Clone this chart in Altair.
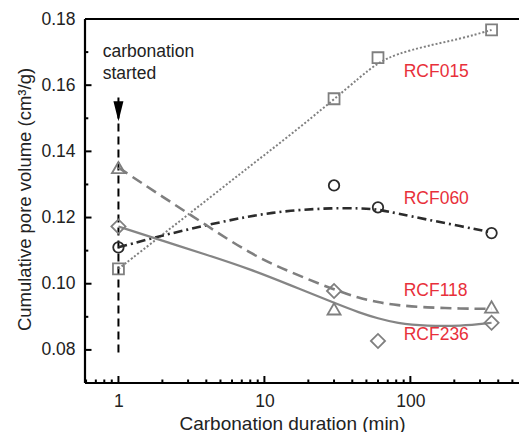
import altair as alt
import pandas as pd

# ---------------- data ----------------
series_names = ["RCF015", "RCF060", "RCF118", "RCF236"]

# measured points: carbonation duration (min) and cumulative pore volume (cm3/g)
rcf015_t = [1, 30, 60, 360]
rcf015_v = [0.1045, 0.1559, 0.1683, 0.1767]
rcf060_t = [1, 30, 60, 360]
rcf060_v = [0.1110, 0.1297, 0.1231, 0.1153]
rcf118_t = [1, 30, 360]
rcf118_v = [0.1351, 0.0924, 0.0930]
rcf236_t = [1, 30, 60, 360]
rcf236_v = [0.1173, 0.0978, 0.0827, 0.0882]

# fitted curves
fit_t = [1, 2, 4, 8, 15, 30, 45, 60, 80, 130, 220, 360]
fit_rcf015 = [0.1045, 0.1148, 0.1252, 0.1356, 0.1449, 0.1557, 0.1624, 0.1668, 0.1694, 0.1719, 0.1740, 0.1767]
fit_rcf060 = [0.1110, 0.1146, 0.1177, 0.1205, 0.1222, 0.1229, 0.1228, 0.1225, 0.1213, 0.1194, 0.1174, 0.1155]
fit_rcf118 = [0.1351, 0.1263, 0.1177, 0.1090, 0.1035, 0.0982, 0.0956, 0.0944, 0.0935, 0.0928, 0.0925, 0.0924]
fit_rcf236 = [0.1173, 0.1130, 0.1088, 0.1044, 0.0996, 0.0942, 0.0912, 0.0895, 0.0881, 0.0872, 0.0872, 0.0882]

# series labels
label_t = [90, 90, 90, 90]
label_v = [0.1639, 0.1255, 0.0979, 0.0844]

# "carbonation started" marker
arrow_t = [1]
arrow_top = [0.1563]
arrow_bottom = [0.0782]
arrowhead_v = [0.1521]
note_lines = ["carbonation", "started"]
note_t = [0.78, 0.78]
note_v = [0.1699, 0.1634]

# axis ticks
x_major = [1, 10, 100]
x_minor = [0.6, 0.7, 0.8, 0.9, 2, 3, 4, 5, 6, 7, 8, 9,
           20, 30, 40, 50, 60, 70, 80, 90, 200, 300, 400, 500]
y_major = [0.08, 0.10, 0.12, 0.14, 0.16, 0.18]
y_minor = [0.07, 0.09, 0.11, 0.13, 0.15, 0.17]

# ---------------- chart ----------------
W, H = 434, 364
FONT = "Liberation Sans"
TXT = "#222222"
GRAY = "#7f7f7f"
DARK = "#2b2b2b"
RED = "#e8303a"

xs = alt.Scale(type="log", domain=[0.59, 555], nice=False)
ys = alt.Scale(domain=[0.07, 0.18], nice=False, zero=False)

xaxis = alt.Axis(values=x_major, format="~g", title="Carbonation duration (min)",
                 grid=False, domain=False, ticks=False, tickSize=0, labelPadding=9,
                 labelFontSize=17.5, labelFont=FONT, labelColor=TXT, labelFlush=False,
                 titleFontSize=19, titleFont=FONT, titleFontWeight="normal", titleColor=TXT,
                 titleX=207, titleY=46, titleBaseline="alphabetic", titleAlign="center")
yaxis = alt.Axis(values=y_major, format=".2f", title="Cumulative pore volume (cm³/g)",
                 grid=False, domain=False, ticks=False, tickSize=0, labelPadding=10,
                 labelFontSize=17.5, labelFont=FONT, labelColor=TXT, labelFlush=False,
                 titleFontSize=18.5, titleFont=FONT, titleFontWeight="normal", titleColor=TXT,
                 titleX=-55, titleY=180, titleAngle=270, titleBaseline="alphabetic",
                 titleAlign="center")

X = alt.X("t:Q", scale=xs, axis=xaxis)
Y = alt.Y("v:Q", scale=ys, axis=yaxis)

layers = []

# frame
one = pd.DataFrame({"k": [0]})
frame_rule = alt.Chart(one).mark_rule(color="black", strokeWidth=2.2)
layers.append(frame_rule.encode(x=alt.value(0), y=alt.value(0), y2=alt.value(H)))
layers.append(frame_rule.encode(x=alt.value(0), x2=alt.value(W), y=alt.value(H)))
layers.append(frame_rule.encode(x=alt.value(0), x2=alt.value(W), y=alt.value(0)))

# inward ticks
layers.append(alt.Chart(pd.DataFrame({"t": x_major})).mark_rule(color="black", strokeWidth=2)
              .encode(x=X, y=alt.value(H), y2=alt.value(H - 7)))
layers.append(alt.Chart(pd.DataFrame({"t": x_minor})).mark_rule(color="black", strokeWidth=2)
              .encode(x=X, y=alt.value(H), y2=alt.value(H - 3.5)))
layers.append(alt.Chart(pd.DataFrame({"v": y_major})).mark_rule(color="black", strokeWidth=2)
              .encode(y=Y, x=alt.value(0), x2=alt.value(6.5)))
layers.append(alt.Chart(pd.DataFrame({"v": y_minor})).mark_rule(color="black", strokeWidth=2)
              .encode(y=Y, x=alt.value(0), x2=alt.value(3.3)))

# carbonation-started dashed arrow
arrow_df = pd.DataFrame({"t": arrow_t, "v": arrow_top, "v2": arrow_bottom})
layers.append(alt.Chart(arrow_df).mark_rule(color="black", strokeWidth=2, strokeDash=[8, 5])
              .encode(x=X, y=Y, y2="v2:Q"))
layers.append(alt.Chart(pd.DataFrame({"t": arrow_t, "v": arrowhead_v}))
              .mark_point(shape="M-0.5,-1L0.5,-1L0,1Z", size=400, filled=True,
                          color="black", opacity=1)
              .encode(x=X, y=Y))

# fitted curves
fits = [
    (fit_rcf015, dict(color="#808080", strokeWidth=2.0, strokeDash=[2, 2])),
    (fit_rcf060, dict(color=DARK, strokeWidth=2.6, strokeDash=[9, 4, 2, 4])),
    (fit_rcf118, dict(color=GRAY, strokeWidth=2.6, strokeDash=[11, 6])),
    (fit_rcf236, dict(color="#858585", strokeWidth=2.2)),
]
for vals, style in fits:
    df = pd.DataFrame({"t": fit_t, "v": vals})
    layers.append(alt.Chart(df).mark_line(interpolate="basis", **style).encode(x=X, y=Y))

# measured points
pts = [
    (rcf015_t, rcf015_v, "square", 120, GRAY),
    (rcf060_t, rcf060_v, "circle", 110, DARK),
    (rcf118_t, rcf118_v, "triangle-up", 170, GRAY),
    (rcf236_t, rcf236_v, "diamond", 200, GRAY),
]
for t, v, shape, size, col in pts:
    df = pd.DataFrame({"t": t, "v": v})
    layers.append(alt.Chart(df).mark_point(shape=shape, size=size, filled=False, color=col,
                                           strokeWidth=1.8, opacity=1)
                  .encode(x=X, y=Y))

# series labels
lab_df = pd.DataFrame({"t": label_t, "v": label_v, "txt": series_names})
layers.append(alt.Chart(lab_df).mark_text(align="left", baseline="middle", fontSize=17.5,
                                          font=FONT, color=RED)
              .encode(x=X, y=Y, text="txt:N"))

# note text
note_df = pd.DataFrame({"t": note_t, "v": note_v, "txt": note_lines})
layers.append(alt.Chart(note_df).mark_text(align="left", baseline="middle", fontSize=17.5,
                                           font=FONT, color=TXT)
              .encode(x=X, y=Y, text="txt:N"))

chart = alt.layer(*layers).properties(
    width=W, height=H,
    padding={"left": 85, "top": 19, "right": 0, "bottom": 49},
    autosize=alt.AutoSizeParams(type="none"),
    background="white",
).configure_view(stroke=None)

chart.save("out.html", embed_options={"renderer": "svg", "actions": False})
